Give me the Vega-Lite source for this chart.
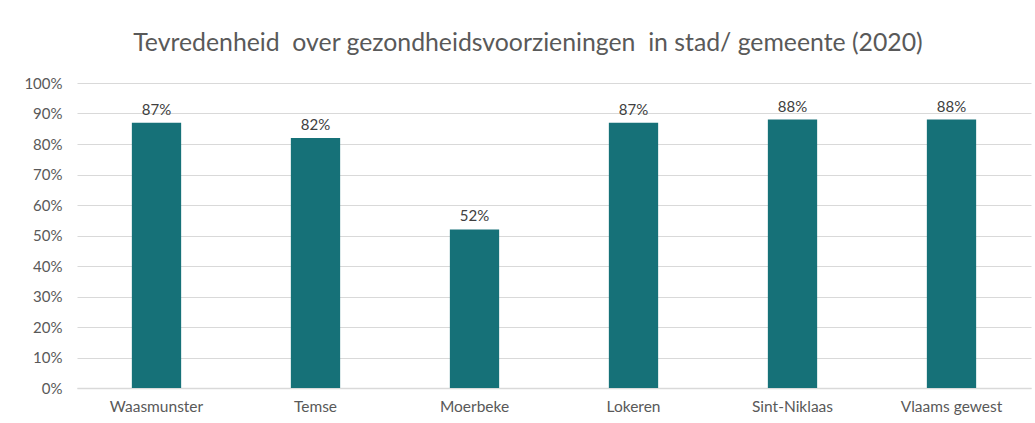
{
  "$schema": "https://vega.github.io/schema/vega-lite/v6.json",
  "width": 954,
  "height": 305,
  "autosize": {"type": "none"},
  "padding": {"left": 77, "top": 83, "right": 4, "bottom": 35},
  "background": "white",
  "data": {
    "values": [
      {"gemeente": "Waasmunster", "waarde": 0.87},
      {"gemeente": "Temse", "waarde": 0.82},
      {"gemeente": "Moerbeke", "waarde": 0.52},
      {"gemeente": "Lokeren", "waarde": 0.87},
      {"gemeente": "Sint-Niklaas", "waarde": 0.88},
      {"gemeente": "Vlaams gewest", "waarde": 0.88}
    ]
  },
  "title": {
    "text": "Tevredenheid\u00a0 over gezondheidsvoorzieningen\u00a0 in stad/ gemeente (2020)",
    "font": "Lato",
    "fontSize": 24.8,
    "fontWeight": "normal",
    "color": "#595959",
    "anchor": "middle",
    "dx": -26,
    "offset": 20
  },
  "config": {
    "view": {"stroke": null},
    "font": "Lato"
  },
  "encoding": {
    "x": {
      "field": "gemeente",
      "type": "nominal",
      "sort": null,
      "scale": {"paddingInner": 0.69, "paddingOuter": 0.345},
      "axis": {
        "title": null,
        "labelAngle": 0,
        "labelFont": "Lato",
        "labelFontSize": 15.5,
        "labelColor": "#595959",
        "labelPadding": 11,
        "ticks": false,
        "domainColor": "#D9D9D9",
        "domainWidth": 1.5
      }
    },
    "y": {
      "field": "waarde",
      "type": "quantitative",
      "scale": {"domain": [0, 1]},
      "axis": {
        "title": null,
        "format": ".0%",
        "values": [0, 0.1, 0.2, 0.3, 0.4, 0.5, 0.6, 0.7, 0.8, 0.9, 1],
        "labelFont": "Lato",
        "labelFontSize": 15,
        "labelColor": "#595959",
        "labelPadding": 15,
        "ticks": false,
        "domain": false,
        "gridColor": "#D9D9D9",
        "gridWidth": 1
      }
    }
  },
  "layer": [
    {"mark": {"type": "bar", "color": "#167178"}},
    {
      "mark": {"type": "text", "dy": -13, "font": "Lato", "fontSize": 15, "color": "#404040"},
      "encoding": {"text": {"field": "waarde", "type": "quantitative", "format": ".0%"}}
    }
  ]
}
